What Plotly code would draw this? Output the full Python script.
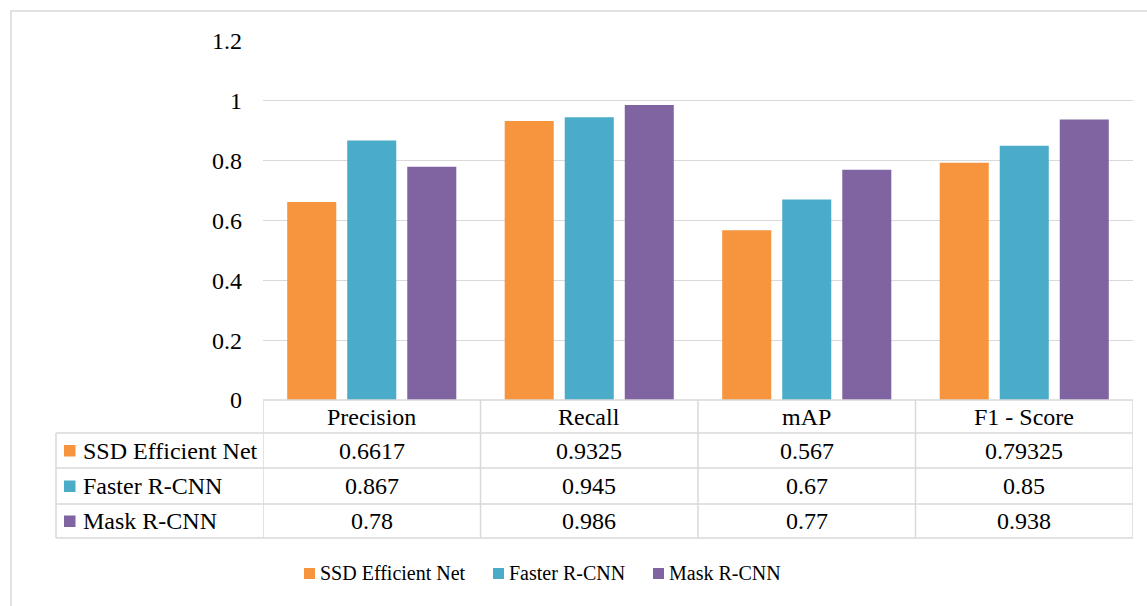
import plotly.graph_objects as go

# ---- data ----
metrics = ["Precision", "Recall", "mAP", "F1 - Score"]
models = ["SSD Efficient Net", "Faster R-CNN", "Mask R-CNN"]
ssd_efficientnet = [0.6617, 0.9325, 0.567, 0.79325]
faster_rcnn = [0.867, 0.945, 0.67, 0.85]
mask_rcnn = [0.78, 0.986, 0.77, 0.938]
series = [ssd_efficientnet, faster_rcnn, mask_rcnn]
colors = ["#F7953F", "#4AACC8", "#8064A2"]
y_ticks = [0, 0.2, 0.4, 0.6, 0.8, 1.0, 1.2]
y_tick_text = ["0", "0.2", "0.4", "0.6", "0.8", "1", "1.2"]

# ---- page geometry (pixels) ----
W, H = 1147, 606
L, R, T, B = 263, 1133, 41, 400          # plot area edges
PW, PH = R - L, B - T

def to_px_x(xp):
    return (xp - L) / PW

def to_px_y(yp):
    return (B - yp) / PH

FONT = "Liberation Serif"
GRID = "#D9D9D9"

fig = go.Figure()
for name, vals, col in zip(models, series, colors):
    fig.add_trace(go.Bar(
        name=name, x=metrics, y=vals,
        marker=dict(color=col, line=dict(width=0)),
    ))

shapes = []
annotations = []

# outer chart border (left and top edges visible)
shapes.append(dict(type="rect", xref="paper", yref="paper",
                   x0=to_px_x(11), x1=to_px_x(1175), y0=to_px_y(640), y1=to_px_y(11),
                   line=dict(color=GRID, width=1.5), layer="below"))

# data table grid
row_lines = [400, 433, 468, 504, 538]
label_left = 56
shapes.append(dict(type="line", xref="paper", yref="paper",
                   x0=0, x1=1, y0=to_px_y(row_lines[0]), y1=to_px_y(row_lines[0]),
                   line=dict(color=GRID, width=1.5)))
for yl in row_lines[1:]:
    shapes.append(dict(type="line", xref="paper", yref="paper",
                       x0=to_px_x(label_left), x1=1, y0=to_px_y(yl), y1=to_px_y(yl),
                       line=dict(color=GRID, width=1.5)))
for i in range(len(metrics) + 1):
    shapes.append(dict(type="line", xref="x", yref="paper",
                       x0=i - 0.5, x1=i - 0.5,
                       y0=to_px_y(row_lines[0]), y1=to_px_y(row_lines[-1]),
                       line=dict(color=GRID, width=1.5)))
shapes.append(dict(type="line", xref="paper", yref="paper",
                   x0=to_px_x(label_left), x1=to_px_x(label_left),
                   y0=to_px_y(row_lines[1]), y1=to_px_y(row_lines[-1]),
                   line=dict(color=GRID, width=1.5)))

row_centers = [(row_lines[k] + row_lines[k + 1]) / 2 for k in range(4)]
cell_font = dict(family=FONT, size=24, color="black")

# header row: metric names
for i, m in enumerate(metrics):
    annotations.append(dict(x=i, y=to_px_y(row_centers[0]), xref="x", yref="paper",
                            text=m, showarrow=False, font=cell_font,
                            xanchor="center", yanchor="middle"))

# value rows with model keys
for r, (name, vals, col) in enumerate(zip(models, series, colors)):
    yc = row_centers[r + 1]
    shapes.append(dict(type="rect", xref="paper", yref="paper",
                       x0=to_px_x(64), x1=to_px_x(75.5), y0=to_px_y(yc + 6), y1=to_px_y(yc - 5.5),
                       fillcolor=col, line=dict(width=0)))
    annotations.append(dict(x=to_px_x(81), y=to_px_y(yc), xref="paper", yref="paper",
                            text=name, showarrow=False, font=cell_font,
                            xanchor="left", yanchor="middle"))
    for i, v in enumerate(vals):
        annotations.append(dict(x=i, y=to_px_y(yc), xref="x", yref="paper",
                                text=str(v), showarrow=False, font=cell_font,
                                xanchor="center", yanchor="middle"))

# legend below the table
legend_left = [304, 493, 653]
legend_y = 573
for name, col, x0 in zip(models, colors, legend_left):
    shapes.append(dict(type="rect", xref="paper", yref="paper",
                       x0=to_px_x(x0), x1=to_px_x(x0 + 11),
                       y0=to_px_y(legend_y + 6), y1=to_px_y(legend_y - 5),
                       fillcolor=col, line=dict(width=0)))
    annotations.append(dict(x=to_px_x(x0 + 14), y=to_px_y(legend_y), xref="paper", yref="paper",
                            text=name, showarrow=False,
                            font=dict(family=FONT, size=20, color="black"),
                            xanchor="left", yanchor="middle"))

fig.update_layout(
    width=W, height=H,
    margin=dict(l=L, r=W - R, t=T, b=H - B, pad=0),
    paper_bgcolor="white", plot_bgcolor="white",
    barmode="group", bargap=0.172, bargroupgap=0.183,
    showlegend=False,
    shapes=shapes, annotations=annotations,
    font=dict(family=FONT, size=24, color="black"),
    xaxis=dict(range=[-0.5, len(metrics) - 0.5], showticklabels=False,
               showgrid=False, zeroline=False, showline=False, ticks=""),
    yaxis=dict(range=[0, 1.2], tickvals=y_ticks, ticktext=y_tick_text,
               showgrid=True, gridcolor=GRID, gridwidth=1.3,
               zeroline=False, showline=False, ticks="",
               ticklabelstandoff=20,
               tickfont=dict(family=FONT, size=24, color="black")),
)

fig.write_html("out.html")
